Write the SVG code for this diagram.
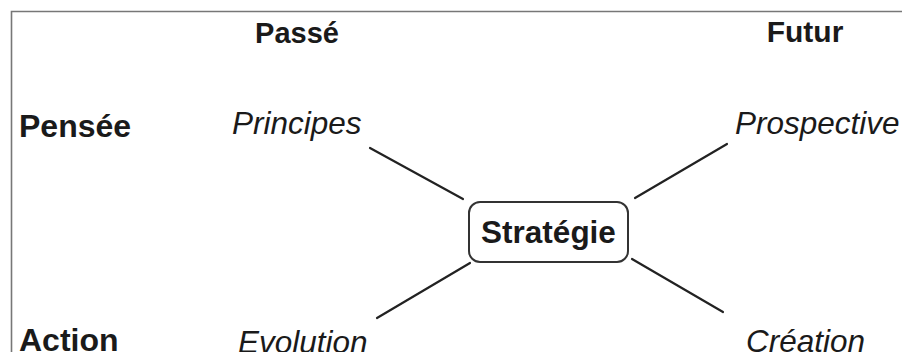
<svg xmlns="http://www.w3.org/2000/svg" width="902" height="352" viewBox="0 0 902 352">
<style>
.b{font-family:"Liberation Sans",Arial,sans-serif;font-weight:bold;font-size:30px;fill:#1a1a1a}
.l{font-size:32px}
.i{font-family:"Liberation Sans",Arial,sans-serif;font-style:italic;font-size:31.5px;fill:#1a1a1a}
.c{stroke:#222;stroke-width:2.2;stroke-linecap:round;fill:none}
</style>
<rect width="902" height="352" fill="#fff"/>
<path d="M11.5 400 V11.5 H910" fill="none" stroke="#777" stroke-width="1.6"/>
<g id="headers">
<text class="b" x="297" y="43" text-anchor="middle" style="font-size:29px">Passé</text>
<text class="b" x="805" y="42" text-anchor="middle">Futur</text>
<text class="b l" x="19" y="137">Pensée</text>
<text class="b l" x="19" y="351">Action</text>
</g>
<g id="connectors">
<line class="c" x1="370" y1="148" x2="463" y2="199"/>
<line class="c" x1="727" y1="144" x2="635" y2="198"/>
<line class="c" x1="377" y1="318" x2="470" y2="263"/>
<line class="c" x1="632" y1="259" x2="723" y2="312"/>
</g>
<g id="strategie">
<rect x="469" y="202" width="159" height="60" rx="11" fill="#fff" stroke="#333" stroke-width="2"/>
<text class="b" x="548.5" y="243" text-anchor="middle" style="font-size:31.5px">Stratégie</text>
</g>
<g id="principes"><text class="i" x="232" y="134">Principes</text></g>
<g id="prospective"><text class="i" x="735" y="134">Prospective</text></g>
<g id="evolution"><text class="i" x="238" y="353">Evolution</text></g>
<g id="creation"><text class="i" x="746" y="352">Création</text></g>
</svg>
